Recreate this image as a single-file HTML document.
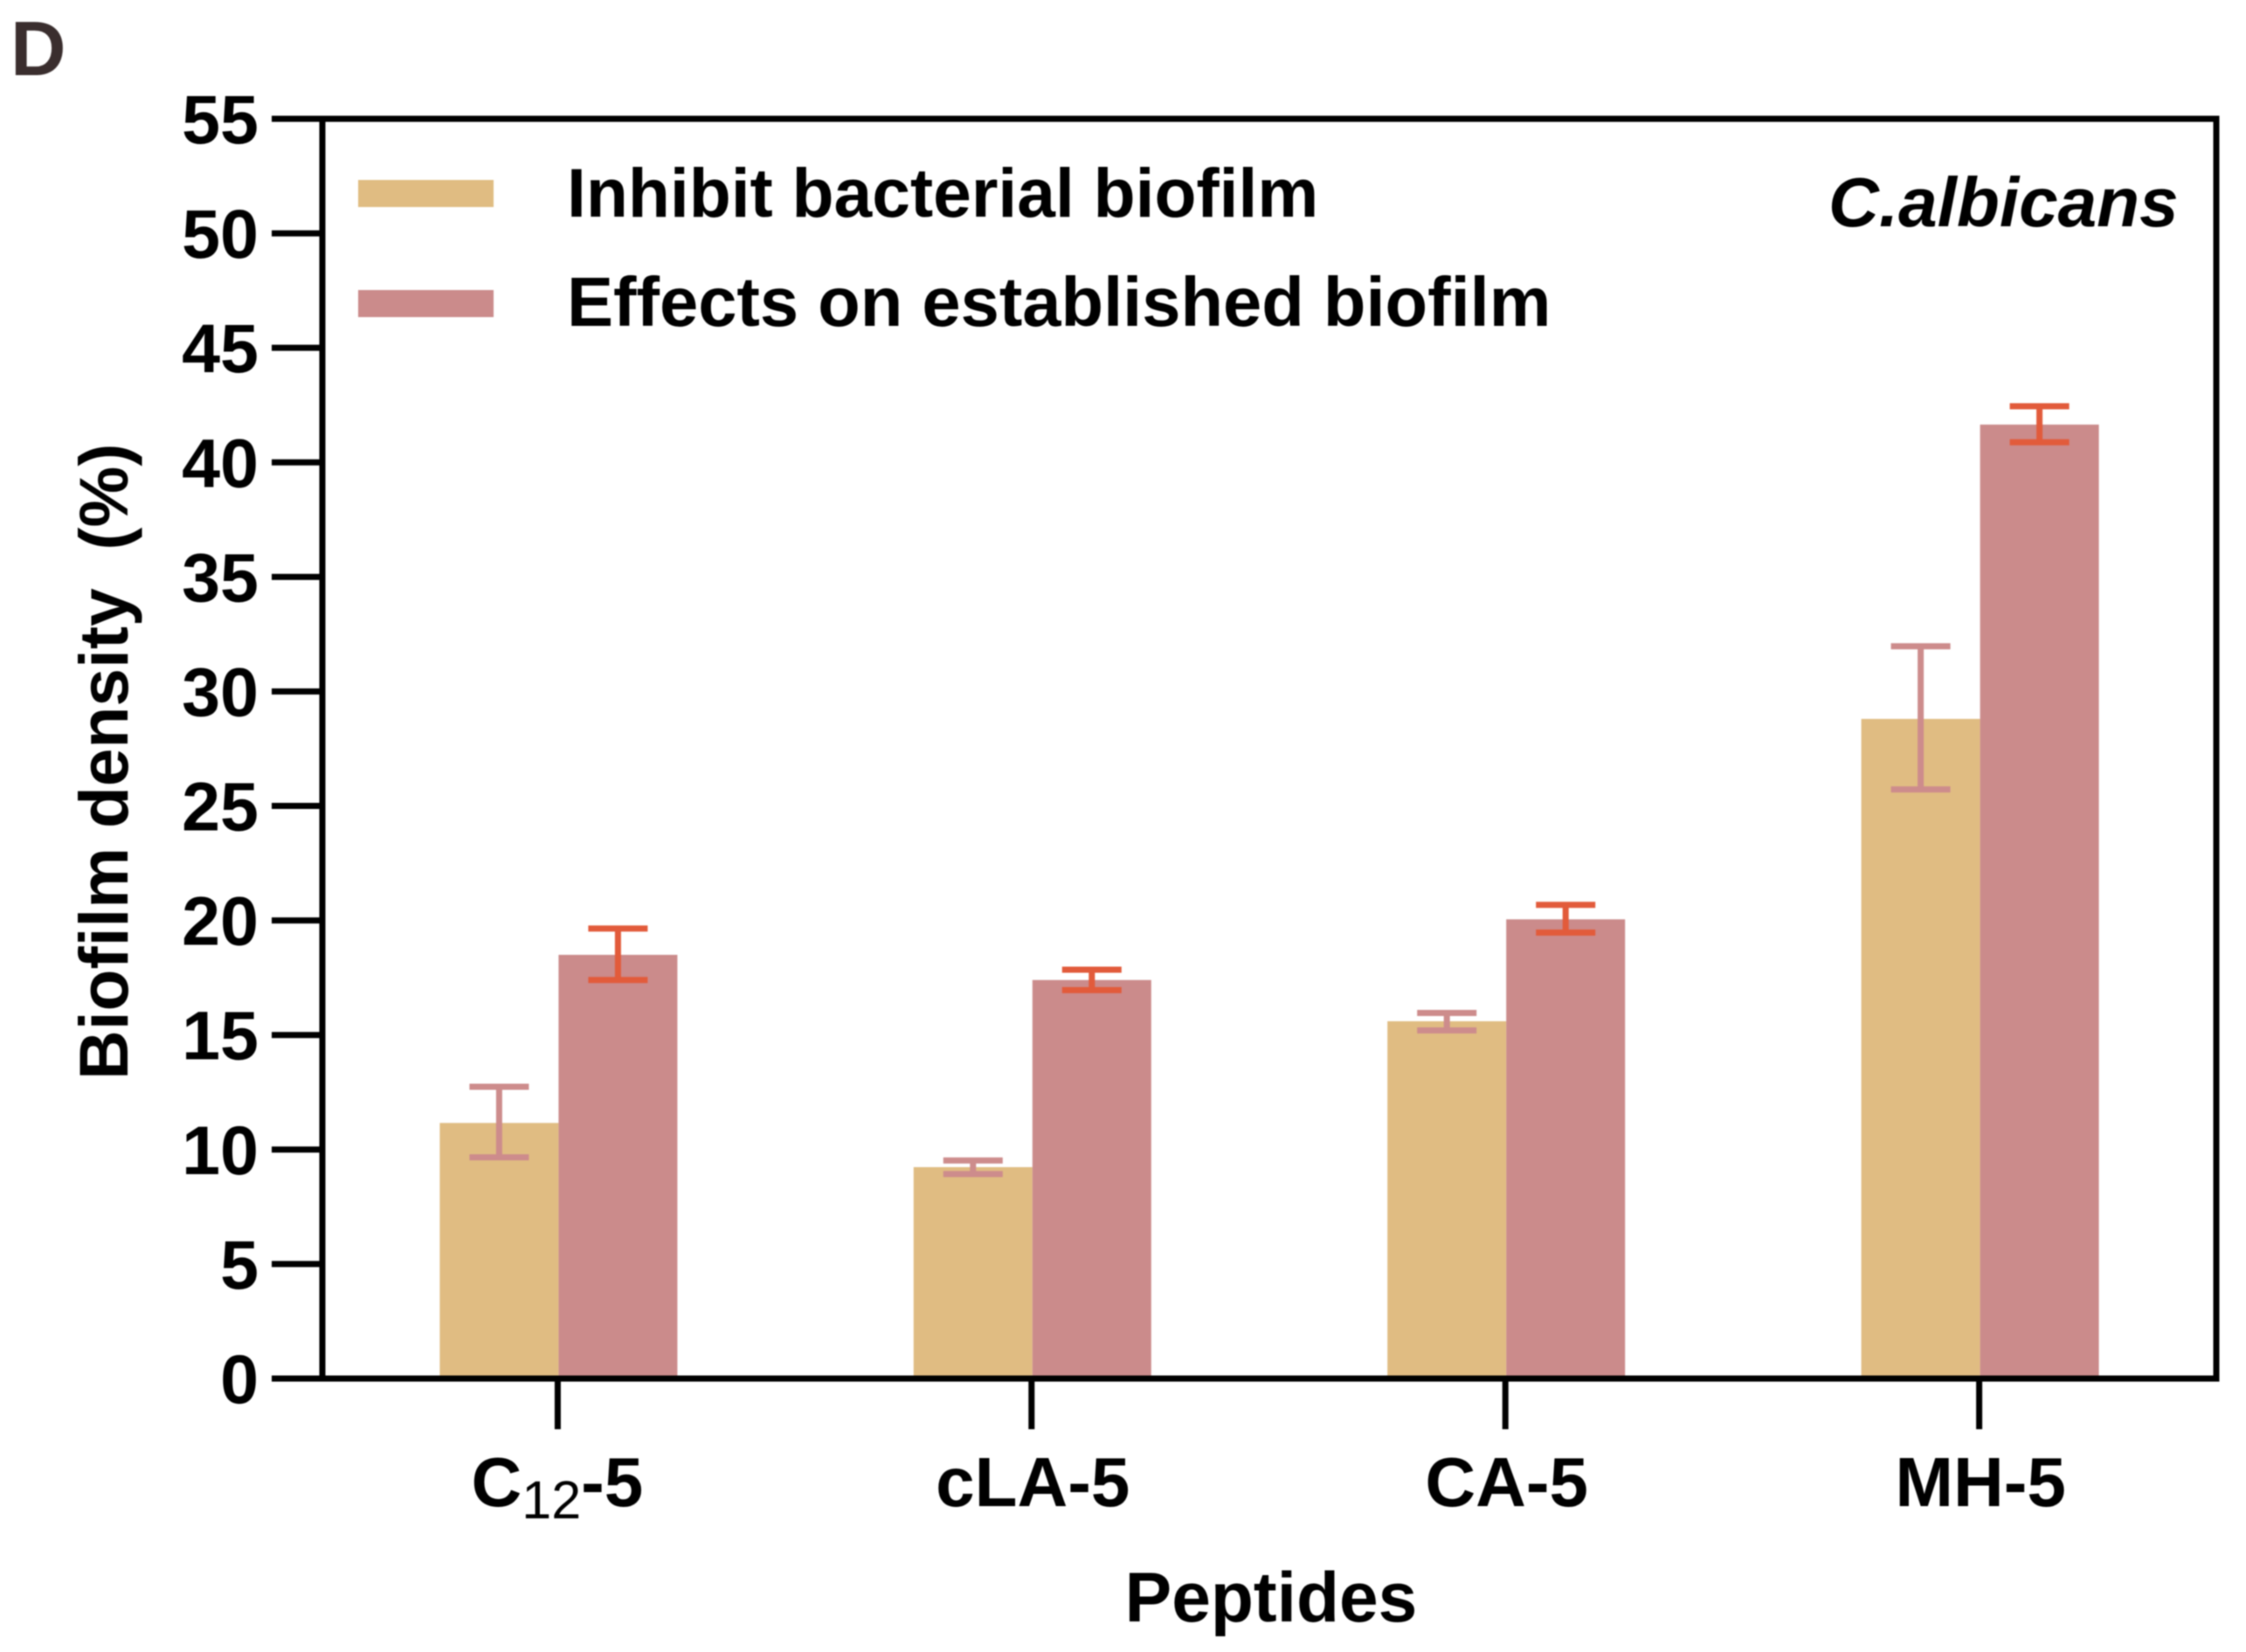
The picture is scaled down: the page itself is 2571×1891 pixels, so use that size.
<!DOCTYPE html>
<html lang="en">
<head>
<meta charset="utf-8">
<title>Biofilm density chart</title>
<style>
  html, body { margin: 0; padding: 0; background: #fff; }
  body { width: 2571px; height: 1891px; overflow: hidden; }
  svg { display: block; filter: blur(0.7px); }
  text { font-family: "Liberation Sans", Arial, sans-serif; font-weight: 700; fill: #000; white-space: pre; }
</style>
</head>
<body>
<svg id="chart" xmlns="http://www.w3.org/2000/svg" width="2571" height="1891" viewBox="0 0 2571 1891">
  <rect x="0" y="0" width="2571" height="1891" fill="#ffffff"/>
  <text x="12" y="86" font-size="88" style="fill:#3a2e2e">D</text>
  <g id="bars"></g>
  <g id="errors"></g>
  <g id="axes"></g>
  <g>
    <rect x="410" y="206" width="155" height="31" fill="#E0BC82"/>
    <text x="649" y="248" font-size="78.6">Inhibit bacterial biofilm</text>
    <rect x="410" y="332" width="155" height="31" fill="#CB8B8B"/>
    <text x="649" y="373" font-size="79.5">Effects on established biofilm</text>
  </g>
  <text x="2093" y="259" font-size="80.1" font-style="italic">C.albicans</text>
  <text transform="translate(146,1236) rotate(-90)" font-size="78.5">Biofilm density  (%)</text>
  <text x="1455" y="1856" font-size="80.3" text-anchor="middle">Peptides</text>
</svg>
<script>
const categories = ["C12-5", "cLA-5", "CA-5", "MH-5"];
const inhibitValues = [11.16, 9.23, 15.6, 28.8];
const establishedValues = [18.5, 17.4, 20.05, 41.65];
const inhibitErrorHigh = [12.74, 9.52, 15.96, 31.97];
const inhibitErrorLow = [9.66, 8.93, 15.2, 25.72];
const establishedErrorHigh = [19.65, 17.85, 20.68, 42.45];
const establishedErrorLow = [17.4, 16.96, 19.47, 40.88];
const yTickLabels = [0, 5, 10, 15, 20, 25, 30, 35, 40, 45, 50, 55];

const NS = "http://www.w3.org/2000/svg";
const plot = { left: 369, right: 2537, top: 136, bottom: 1578, yMax: 55, firstCenter: 639.4, step: 542.4, barWidth: 136, capWidth: 68, stroke: 7 };
const COLORS = { inhibit: "#E0BC82", established: "#CB8B8B", inhibitError: "#CD8C8C", establishedError: "#E25B3B", axis: "#000000" };

function yScale(v) { return plot.bottom - (v / plot.yMax) * (plot.bottom - plot.top); }
function xCenter(i) { return plot.firstCenter + i * plot.step; }

function makeLine(x1, y1, x2, y2, color, width) {
  const l = document.createElementNS(NS, "line");
  l.setAttribute("x1", x1);
  l.setAttribute("y1", y1);
  l.setAttribute("x2", x2);
  l.setAttribute("y2", y2);
  l.setAttribute("stroke", color);
  l.setAttribute("stroke-width", width);
  return l;
}

const barsGroup = document.getElementById("bars");
const errorsGroup = document.getElementById("errors");
const axesGroup = document.getElementById("axes");

function drawBar(i, value, offset, color, name) {
  const r = document.createElementNS(NS, "rect");
  r.setAttribute("x", xCenter(i) + offset);
  r.setAttribute("y", yScale(value));
  r.setAttribute("width", plot.barWidth);
  r.setAttribute("height", plot.bottom - yScale(value));
  r.setAttribute("fill", color);
  
  
  barsGroup.appendChild(r);
}

function drawError(i, high, low, offset, color, name) {
  const cx = xCenter(i) + offset + plot.barWidth / 2;
  const g = document.createElementNS(NS, "g");
  
  
  g.appendChild(makeLine(cx, yScale(high), cx, yScale(low), color, plot.stroke));
  g.appendChild(makeLine(cx - plot.capWidth / 2, yScale(high), cx + plot.capWidth / 2, yScale(high), color, plot.stroke));
  g.appendChild(makeLine(cx - plot.capWidth / 2, yScale(low), cx + plot.capWidth / 2, yScale(low), color, plot.stroke));
  errorsGroup.appendChild(g);
}

categories.forEach(function (cat, i) {
  drawBar(i, inhibitValues[i], -plot.barWidth, COLORS.inhibit, "bar-inhibit-" + cat.toLowerCase());
  drawBar(i, establishedValues[i], 0, COLORS.established, "bar-established-" + cat.toLowerCase());
  drawError(i, inhibitErrorHigh[i], inhibitErrorLow[i], -plot.barWidth, COLORS.inhibitError, "error-inhibit-" + cat.toLowerCase());
  drawError(i, establishedErrorHigh[i], establishedErrorLow[i], 0, COLORS.establishedError, "error-established-" + cat.toLowerCase());
});

/* frame */
const frameTop = makeLine(311, plot.top, plot.right + 3.5, plot.top, COLORS.axis, 7);


axesGroup.appendChild(frameTop);
const frameBottom = makeLine(311, plot.bottom, plot.right + 3.5, plot.bottom, COLORS.axis, 7);


axesGroup.appendChild(frameBottom);
const frameLeft = makeLine(plot.left, plot.top, plot.left, plot.bottom, COLORS.axis, 7);


axesGroup.appendChild(frameLeft);
const frameRight = makeLine(plot.right, plot.top, plot.right, plot.bottom, COLORS.axis, 7);


axesGroup.appendChild(frameRight);

/* y ticks */
yTickLabels.forEach(function (v) {
  const y = yScale(v);
  const tick = makeLine(311, y, plot.left, y, COLORS.axis, 7);
  
  
  axesGroup.appendChild(tick);
  const t = document.createElementNS(NS, "text");
  t.setAttribute("x", 296);
  t.setAttribute("y", y + 28);
  t.setAttribute("font-size", 79);
  t.setAttribute("text-anchor", "end");
  t.textContent = String(v);
  
  
  axesGroup.appendChild(t);
});

/* x ticks and category labels */
categories.forEach(function (cat, i) {
  const x = xCenter(i) - 1;
  const tick = makeLine(x, plot.bottom, x, 1636, COLORS.axis, 7);
  
  
  axesGroup.appendChild(tick);
  const t = document.createElementNS(NS, "text");
  t.setAttribute("y", 1724);
  t.setAttribute("font-size", 80);
  t.setAttribute("text-anchor", "middle");
  
  
  const m = cat.match(/^([A-Za-z]+?)(\d+)(-.*)$/);
  if (m && m[2] === "12") {
    t.setAttribute("x", x - 0.5);
    const a = document.createElementNS(NS, "tspan");
    a.textContent = m[1];
    t.appendChild(a);
    const b = document.createElementNS(NS, "tspan");
    b.setAttribute("font-size", 61);
    b.setAttribute("dy", 14);
    b.setAttribute("style", "font-weight:400");
    b.textContent = m[2];
    t.appendChild(b);
    const c = document.createElementNS(NS, "tspan");
    c.setAttribute("dy", -14);
    c.textContent = m[3];
    t.appendChild(c);
  } else {
    t.setAttribute("x", x + 1.5);
    t.textContent = cat;
  }
  axesGroup.appendChild(t);
});
</script>
</body>
</html>
